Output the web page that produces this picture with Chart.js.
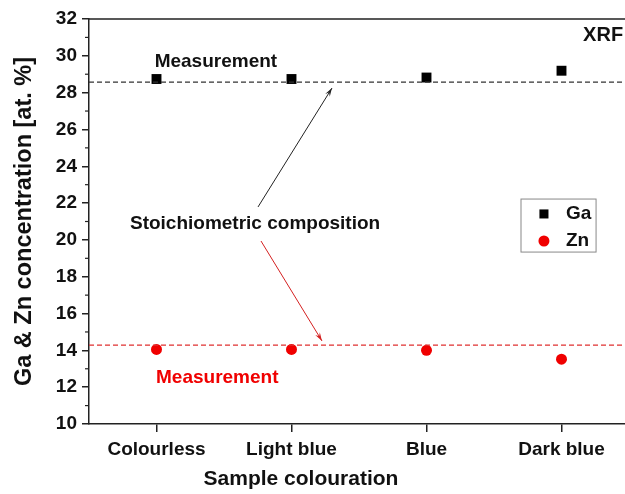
<!DOCTYPE html>
<html>
<head>
<meta charset="utf-8">
<script src="https://cdn.jsdelivr.net/npm/chart.js@4"></script>
<style>
  html, body { margin: 0; padding: 0; background: #fff; }
  #wrap { width: 625px; height: 494px; overflow: hidden; }
</style>
</head>
<body>
<div id="wrap"><canvas id="myChart" width="640" height="494"></canvas></div>
<script>
const categories = ['Colourless', 'Light blue', 'Blue', 'Dark blue'];
const gaValues = [28.74, 28.74, 28.82, 29.19];
const znValues = [14.05, 14.05, 14.0, 13.52];
const gaStoich = 28.57;
const znStoich = 14.29;
const yMin = 10, yMax = 32, yStep = 2;

const FONT = '"Liberation Sans", Arial, sans-serif';
const RED = '#f00000';

// text / arrows / legend drawn on top, placed in data units
const extras = {
    id: 'extras',
    afterDatasetsDraw(chart) {
        const {ctx, chartArea: a, scales: {x, y}} = chart;
        const px = v => x.getPixelForValue(v);
        const py = v => y.getPixelForValue(v);
        ctx.save();

        // top frame + right frame
        ctx.strokeStyle = '#222';
        ctx.lineWidth = 1.5;
        ctx.beginPath();
        ctx.moveTo(a.left, a.top);
        ctx.lineTo(a.right, a.top);
        ctx.lineTo(a.right, a.bottom);
        ctx.stroke();

        // minor ticks
        ctx.lineWidth = 1.2;
        for (let v = yMin + 1; v < yMax; v += 2) {
            ctx.beginPath();
            ctx.moveTo(a.left - 4, py(v));
            ctx.lineTo(a.left, py(v));
            ctx.stroke();
        }

        function text(str, xv, yv, color, size, align) {
            ctx.fillStyle = color;
            ctx.font = 'bold ' + size + 'px ' + FONT;
            ctx.textAlign = align || 'center';
            ctx.textBaseline = 'middle';
            ctx.fillText(str, px(xv), py(yv));
        }
        function arrow(x0, y0, x1, y1, color) {
            const sx = px(x0), sy = py(y0), ex = px(x1), ey = py(y1);
            const ang = Math.atan2(ey - sy, ex - sx);
            ctx.strokeStyle = color;
            ctx.fillStyle = color;
            ctx.lineWidth = 1;
            ctx.beginPath();
            ctx.moveTo(sx, sy);
            ctx.lineTo(ex, ey);
            ctx.stroke();
            const L = 9, W = 0.3;
            ctx.beginPath();
            ctx.moveTo(ex, ey);
            ctx.lineTo(ex - L * Math.cos(ang - W), ey - L * Math.sin(ang - W));
            ctx.lineTo(ex - L * 0.6 * Math.cos(ang), ey - L * 0.6 * Math.sin(ang));
            ctx.lineTo(ex - L * Math.cos(ang + W), ey - L * Math.sin(ang + W));
            ctx.closePath();
            ctx.fill();
        }

        text('Measurement', 0.44, 29.66, '#111', 19);
        text('Measurement', 0.45, 12.5, RED, 19);
        text('Stoichiometric composition', 0.73, 20.86, '#111', 19);
        text('XRF', 3.16, 31.13, '#111', 20, 'left');

        arrow(0.752, 21.79, 1.30, 28.25, '#222');
        arrow(0.774, 19.94, 1.226, 14.51, '#d42020');

        // legend
        ctx.strokeStyle = '#888';
        ctx.lineWidth = 1;
        ctx.strokeRect(px(2.70), py(22.22), px(3.256) - px(2.70), py(19.34) - py(22.22));
        ctx.fillStyle = '#000';
        Chart.helpers.drawPoint(ctx, {pointStyle: 'rect', radius: 6.4, borderWidth: 0}, px(2.87), py(21.41));
        ctx.fillStyle = RED;
        Chart.helpers.drawPoint(ctx, {pointStyle: 'circle', radius: 5.5, borderWidth: 0}, px(2.87), py(19.94));
        text('Ga', 3.033, 21.41, '#111', 19, 'left');
        text('Zn', 3.033, 19.94, '#111', 19, 'left');

        // x axis title
        text('Sample colouration', 1.07, 7.0, '#111', 21);

        ctx.restore();
    }
};

const pts = vals => vals.map((v, i) => ({x: i, y: v}));
const hline = v => [{x: -0.5, y: v}, {x: categories.length - 0.5, y: v}];

const config = {
    type: 'scatter',
    data: {
        datasets: [
            {
                label: 'Ga stoichiometric',
                type: 'line',
                data: hline(gaStoich),
                borderColor: '#333',
                borderWidth: 1.2,
                borderDash: [5, 3],
                pointRadius: 0
            },
            {
                label: 'Zn stoichiometric',
                type: 'line',
                data: hline(znStoich),
                borderColor: '#e03030',
                borderWidth: 1.2,
                borderDash: [5, 3],
                pointRadius: 0
            },
            {
                label: 'Ga',
                data: pts(gaValues),
                pointStyle: 'rect',
                pointRadius: 7,
                backgroundColor: '#000',
                borderWidth: 0
            },
            {
                label: 'Zn',
                data: pts(znValues),
                pointStyle: 'circle',
                pointRadius: 5.5,
                backgroundColor: RED,
                borderWidth: 0
            }
        ]
    },
    options: {
        responsive: false,
        animation: false,
        layout: {padding: {top: 19, right: 11, left: 0, bottom: 0}},
        plugins: {legend: {display: false}, tooltip: {enabled: false}},
        scales: {
            x: {
                type: 'linear',
                min: -0.5,
                max: categories.length - 0.5,
                afterBuildTicks: s => { s.ticks = categories.map((c, i) => ({value: i})); },
                afterFit: s => { s.height = 70; },
                ticks: {
                    callback: v => categories[v],
                    color: '#111',
                    font: {family: FONT, size: 19, weight: 'bold'},
                    padding: 6,
                    maxRotation: 0
                },
                grid: {drawOnChartArea: false, tickLength: 8, color: '#222', lineWidth: 1.5},
                border: {color: '#222', width: 1.5}
            },
            y: {
                min: yMin,
                max: yMax,
                afterFit: s => { s.width = 89; },
                ticks: {
                    stepSize: yStep,
                    color: '#111',
                    font: {family: FONT, size: 19, weight: 'bold'},
                    padding: 5
                },
                grid: {drawOnChartArea: false, tickLength: 7, color: '#222', lineWidth: 1.5},
                border: {color: '#222', width: 1.5},
                title: {
                    display: true,
                    text: 'Ga & Zn concentration [at. %]',
                    color: '#111',
                    font: {family: FONT, size: 23.5, weight: 'bold'},
                    padding: {top: 10, bottom: 0}
                }
            }
        }
    },
    plugins: [extras]
};

var myChart = new Chart(document.getElementById('myChart'), config);
</script>
</body>
</html>
